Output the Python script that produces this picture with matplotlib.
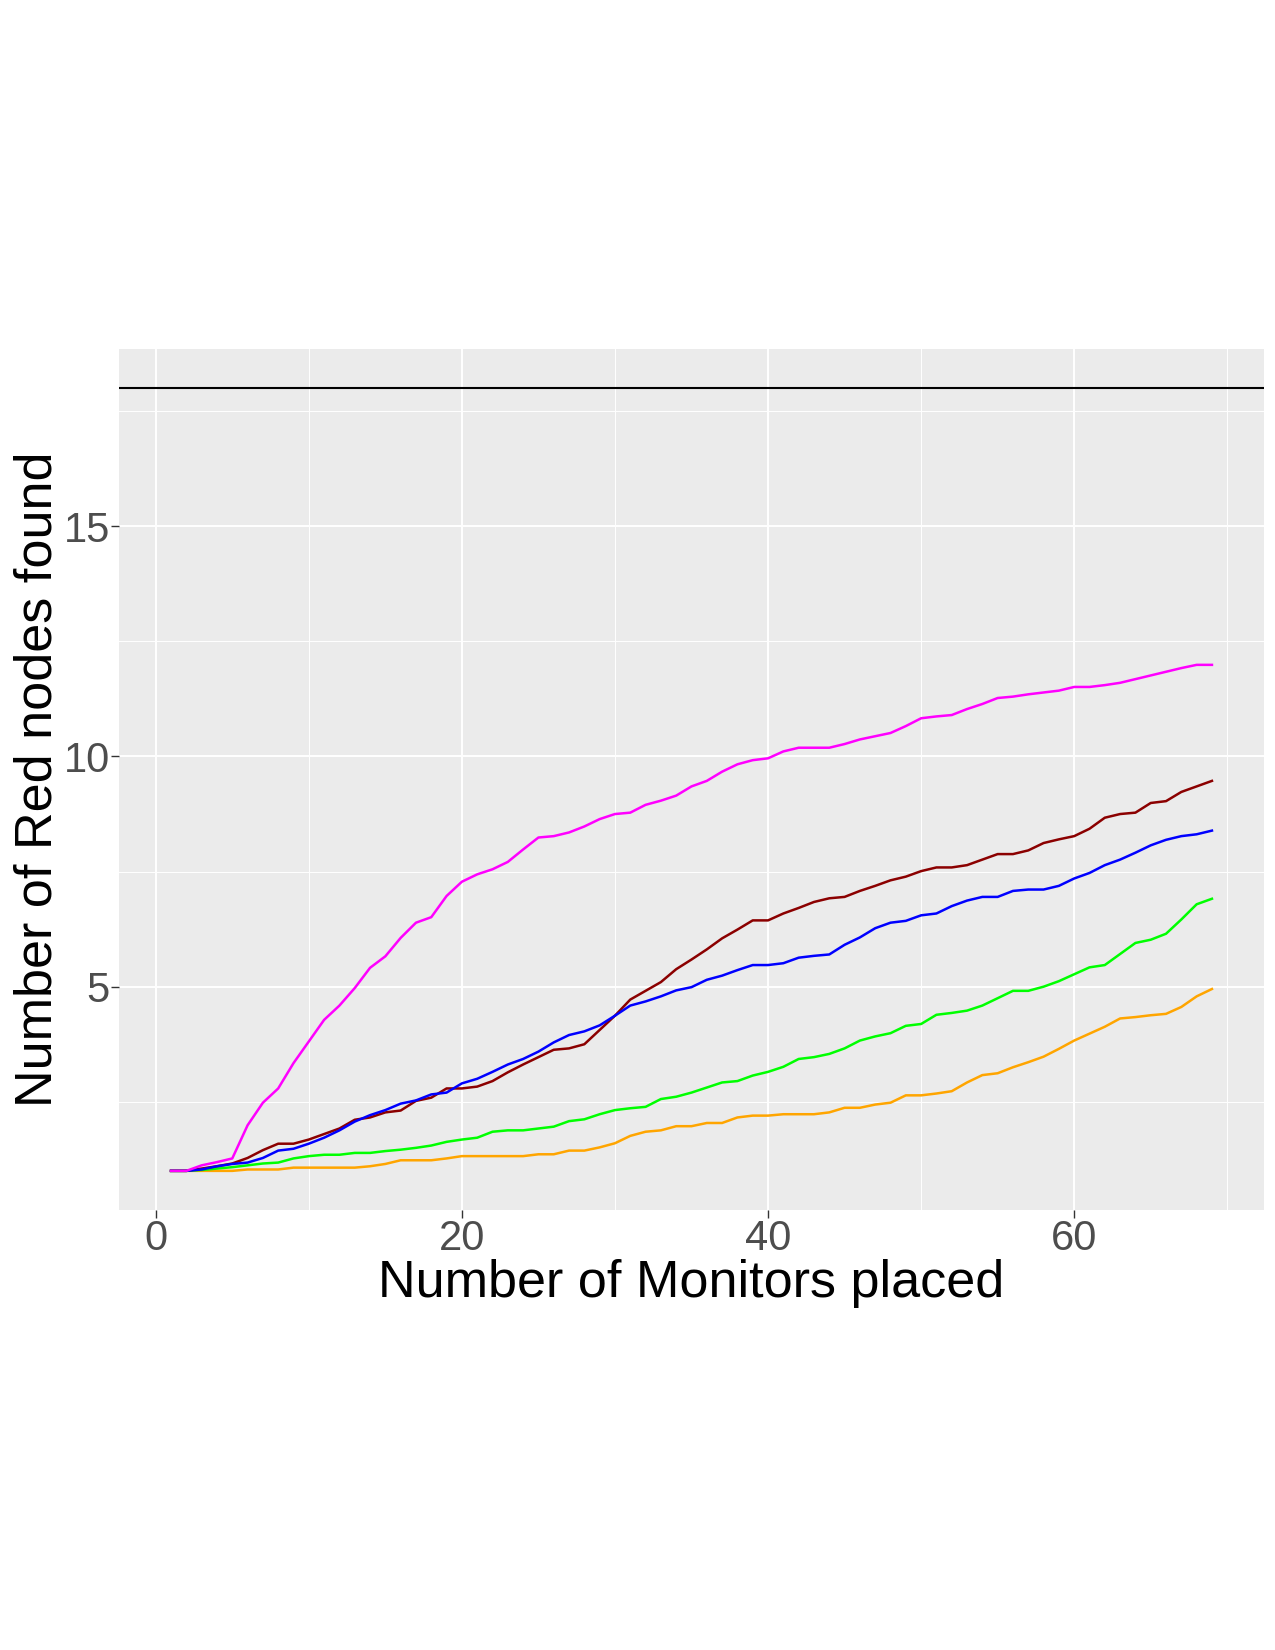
import matplotlib
matplotlib.use('Agg')
import matplotlib.pyplot as plt
from matplotlib.ticker import MultipleLocator

plt.rcParams['font.family'] = ['Liberation Sans', 'DejaVu Sans']

monitors = list(range(1, 70))

magenta_vals = [1.0, 1.0, 1.12, 1.19, 1.27, 1.99, 2.48, 2.79, 3.34, 3.81,
                4.28, 4.59, 4.97, 5.41, 5.66, 6.06, 6.39, 6.51, 6.97, 7.28,
                7.44, 7.55, 7.71, 7.98, 8.24, 8.27, 8.35, 8.48, 8.64, 8.75,
                8.78, 8.95, 9.04, 9.15, 9.35, 9.47, 9.67, 9.83, 9.92, 9.96,
                10.11, 10.19, 10.19, 10.19, 10.27, 10.37, 10.44, 10.51, 10.66, 10.83,
                10.87, 10.9, 11.03, 11.14, 11.27, 11.3, 11.35, 11.39, 11.43, 11.51,
                11.51, 11.55, 11.6, 11.68, 11.76, 11.84, 11.92, 11.99, 11.99]

darkred_vals = [1.0, 1.0, 1.05, 1.1, 1.16, 1.28, 1.45, 1.59, 1.59, 1.68,
                1.80, 1.92, 2.11, 2.16, 2.27, 2.31, 2.52, 2.59, 2.79, 2.79,
                2.83, 2.95, 3.14, 3.31, 3.47, 3.63, 3.66, 3.75, 4.06, 4.37,
                4.72, 4.91, 5.1, 5.38, 5.59, 5.81, 6.05, 6.24, 6.44, 6.44,
                6.59, 6.71, 6.84, 6.92, 6.95, 7.08, 7.19, 7.31, 7.39, 7.51,
                7.59, 7.59, 7.64, 7.76, 7.88, 7.88, 7.96, 8.12, 8.2, 8.27,
                8.43, 8.67, 8.75, 8.78, 8.99, 9.03, 9.23, 9.35, 9.47]

blue_vals = [1.0, 1.0, 1.03, 1.1, 1.15, 1.18, 1.28, 1.44, 1.48, 1.59,
             1.72, 1.88, 2.07, 2.21, 2.32, 2.46, 2.53, 2.66, 2.70, 2.90,
             3.0, 3.15, 3.31, 3.43, 3.59, 3.79, 3.95, 4.03, 4.16, 4.37,
             4.59, 4.68, 4.79, 4.92, 4.99, 5.15, 5.24, 5.36, 5.47, 5.47,
             5.51, 5.63, 5.67, 5.70, 5.91, 6.07, 6.27, 6.39, 6.43, 6.55,
             6.59, 6.75, 6.87, 6.95, 6.95, 7.08, 7.11, 7.11, 7.19, 7.35,
             7.47, 7.64, 7.76, 7.91, 8.07, 8.19, 8.27, 8.31, 8.39]

green_vals = [1.0, 1.0, 1.02, 1.05, 1.08, 1.12, 1.16, 1.18, 1.27, 1.32,
              1.35, 1.35, 1.39, 1.39, 1.43, 1.46, 1.5, 1.55, 1.63, 1.68,
              1.72, 1.85, 1.88, 1.88, 1.92, 1.96, 2.08, 2.12, 2.23, 2.32,
              2.36, 2.39, 2.56, 2.61, 2.70, 2.81, 2.92, 2.95, 3.07, 3.15,
              3.26, 3.43, 3.47, 3.54, 3.66, 3.83, 3.92, 3.99, 4.15, 4.19,
              4.39, 4.43, 4.48, 4.59, 4.75, 4.91, 4.91, 5.0, 5.12, 5.27,
              5.42, 5.47, 5.71, 5.95, 6.02, 6.15, 6.46, 6.79, 6.91]

orange_vals = [1.0, 1.0, 1.0, 1.0, 1.0, 1.03, 1.03, 1.03, 1.07, 1.07,
               1.07, 1.07, 1.07, 1.1, 1.15, 1.23, 1.23, 1.23, 1.27, 1.32,
               1.32, 1.32, 1.32, 1.32, 1.36, 1.36, 1.44, 1.44, 1.51, 1.6,
               1.76, 1.85, 1.88, 1.97, 1.97, 2.04, 2.04, 2.16, 2.2, 2.2,
               2.23, 2.23, 2.23, 2.27, 2.37, 2.37, 2.44, 2.48, 2.64, 2.64,
               2.68, 2.73, 2.92, 3.08, 3.12, 3.25, 3.36, 3.48, 3.65, 3.83,
               3.98, 4.13, 4.31, 4.34, 4.38, 4.41, 4.56, 4.79, 4.95]

total_red = 18

series = [
    (orange_vals, '#FFA500'),
    (green_vals, '#00FF00'),
    (darkred_vals, '#8B0000'),
    (blue_vals, '#0000FF'),
    (magenta_vals, '#FF00FF'),
]

fig = plt.figure(figsize=(12.75, 16.5), dpi=100)
ax = fig.add_axes([119 / 1275, 1 - 1210 / 1650, 1145 / 1275, 861 / 1650])
ax.set_facecolor('#EBEBEB')

for vals, col in series:
    ax.plot(monitors, vals, color=col, lw=1.8, zorder=3)
ax.axhline(total_red, color='black', lw=1.5, zorder=3)

ax.set_xlim(-2.4, 72.4)
ax.set_ylim(0.15, 18.85)
ax.xaxis.set_major_locator(MultipleLocator(20))
ax.xaxis.set_minor_locator(MultipleLocator(10))
ax.yaxis.set_major_locator(MultipleLocator(5))
ax.yaxis.set_minor_locator(MultipleLocator(2.5))
ax.set_yticks([5, 10, 15])

ax.grid(which='major', color='white', lw=1.4, zorder=1)
ax.grid(which='minor', color='white', lw=0.7, zorder=1)
ax.set_axisbelow(True)
for s in ax.spines.values():
    s.set_visible(False)

ax.tick_params(which='major', length=5.5, width=1.0, color='#333333',
               labelsize=30, labelcolor='#4D4D4D', pad=1)
ax.tick_params(which='minor', length=0)

ax.set_xlabel('Number of Monitors placed', fontsize=37.5, labelpad=0)
ax.set_ylabel('Number of Red nodes found', fontsize=37.5, labelpad=1)

fig.savefig('out.png', dpi=100)
